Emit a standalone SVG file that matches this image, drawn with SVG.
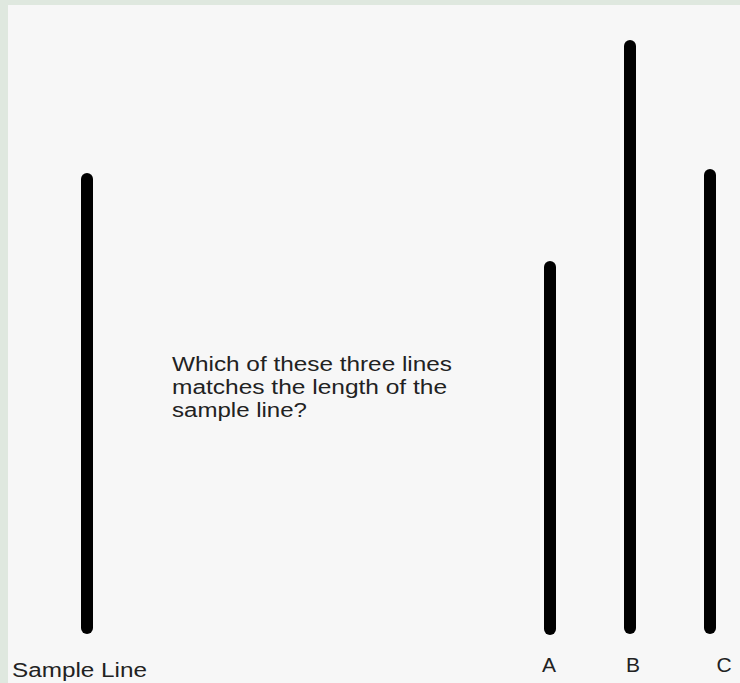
<svg xmlns="http://www.w3.org/2000/svg" width="740" height="683" viewBox="0 0 740 683">
<style>
.ln{stroke:#000;stroke-width:12;stroke-linecap:round;fill:none}
.t{font-family:"Liberation Sans",Arial,Helvetica,sans-serif;fill:#222}
</style>
<rect width="740" height="683" fill="#dfe8df"/>
<rect x="8" y="5" width="732" height="678" fill="#f7f7f7"/>
<g id="sample">
<line class="ln" x1="87" y1="179" x2="87" y2="628"/>
<text class="t" x="12" y="677" font-size="20" textLength="135" lengthAdjust="spacingAndGlyphs">Sample Line</text>
</g>
<g id="question">
<text class="t" font-size="20">
<tspan x="172" y="371" textLength="280" lengthAdjust="spacingAndGlyphs">Which of these three lines</tspan>
<tspan x="172" y="394" textLength="275" lengthAdjust="spacingAndGlyphs">matches the length of the</tspan>
<tspan x="172" y="417" textLength="135" lengthAdjust="spacingAndGlyphs">sample line?</tspan>
</text>
</g>
<g id="lineA">
<line class="ln" x1="550" y1="267" x2="550" y2="629"/>
<text class="t" x="549" y="672" font-size="21" text-anchor="middle">A</text>
</g>
<g id="lineB">
<line class="ln" x1="630" y1="46" x2="630" y2="628"/>
<text class="t" x="633" y="672" font-size="21" text-anchor="middle">B</text>
</g>
<g id="lineC">
<line class="ln" x1="710" y1="175" x2="710" y2="628"/>
<text class="t" x="724" y="672" font-size="21" text-anchor="middle">C</text>
</g>
<g id="connectors"/>
</svg>
